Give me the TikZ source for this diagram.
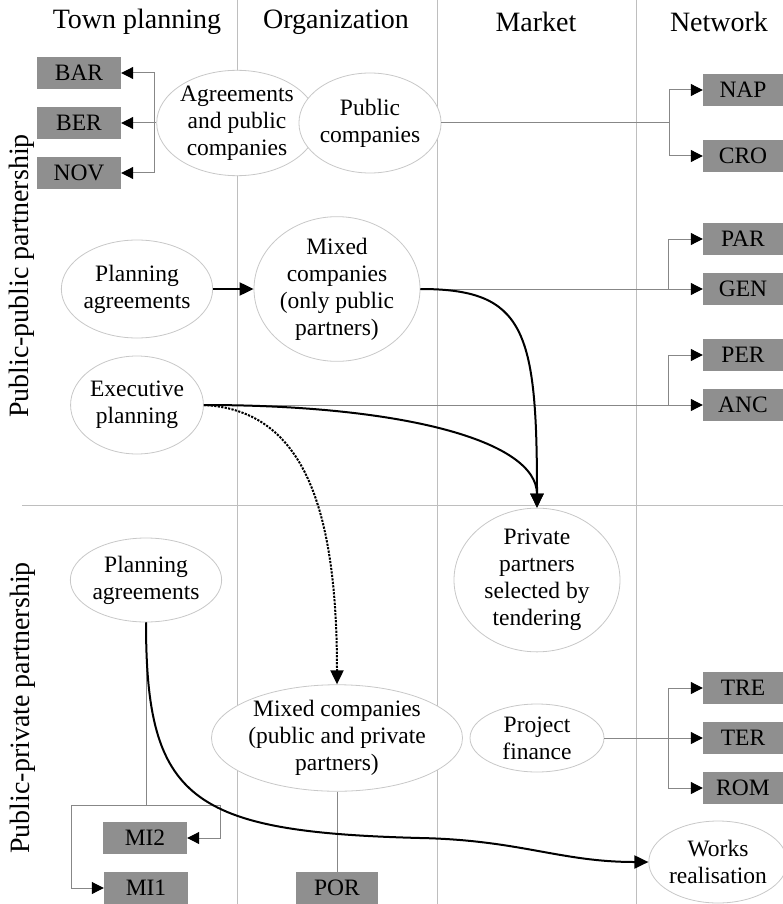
\documentclass[tikz,border=0pt]{standalone}
\usepackage{fontspec}
\setmainfont{Liberation Serif}
\usetikzlibrary{shapes.geometric,arrows.meta}
\definecolor{boxgray}{RGB}{143,143,143}
\definecolor{ellgray}{RGB}{200,200,200}
\definecolor{gridgray}{RGB}{190,190,190}
\definecolor{conngray}{RGB}{135,135,135}
\begin{document}
\begin{tikzpicture}[x=1pt,y=-1pt,
  every node/.style={font=\fontsize{23.5}{27}\selectfont, text=black},
  ell/.style={ellipse, draw=ellgray, fill=white, line width=0.8pt, inner sep=0pt, align=center},
  gbox/.style={rectangle, fill=boxgray, minimum width=84pt, minimum height=32pt, inner sep=0pt},
  rbox/.style={gbox, minimum width=80pt},
  hdr/.style={font=\fontsize{28}{32}\selectfont},
  gridline/.style={draw=gridgray, line width=1pt},
  plain/.style={draw=conngray, line width=1pt},
  conn/.style={draw=conngray, line width=1pt, -{Triangle[length=12pt,width=12pt,color=black,fill=black]}},
  heavy/.style={draw=black, line width=2pt, -{Triangle[length=14pt,width=13pt,color=black,fill=black]}},
  heavydot/.style={heavy, dash pattern=on 2.2pt off 1.3pt}
]
\useasboundingbox (0,0) rectangle (783,904);
% grid
\draw[gridline] (237,0) -- (237,904);
\draw[gridline] (437,0) -- (437,904);
\draw[gridline] (636,0) -- (636,904);
\draw[gridline] (22,505) -- (783,505);
% headers
\node[hdr] (h1) at (137,22) {Town planning};
\node[hdr] (h2) at (336,22) {Organization};
\node[hdr] (h3) at (536,22) {Market};
\node[hdr] (h4) at (719,22) {Network};
\node[hdr, rotate=90] (v1) at (22,276) {Public-public partnership};
\node[hdr, rotate=90] (v2) at (23,708) {Public-private partnership};
% ellipses
\node[ell, minimum width=132pt, minimum height=100pt] (apc) at (237,123) {Agreements\\and public\\companies};
\node[ell, minimum width=134pt, minimum height=100pt] (pc) at (370,123) {Public\\companies};
\node[ell, minimum width=132pt, minimum height=98pt] (pa1) at (137,289) {Planning\\agreements};
\node[ell, minimum width=166pt, minimum height=132pt] (m1) at (337,289) {Mixed\\companies\\(only public\\partners)};
\node[ell, minimum width=132pt, minimum height=98pt] (ex) at (137,405) {Executive\\planning};
\node[ell, minimum width=166pt, minimum height=116pt] (pp) at (537,580) {Private\\partners\\selected by\\tendering};
\node[ell, minimum width=150pt, minimum height=84pt] (pa2) at (146,580) {Planning\\agreements};
\node[ell, minimum width=200pt, minimum height=100pt] (m2) at (337,738) {Mixed companies\\(public and private\\partners)};
\node[ell, minimum width=134pt, minimum height=68pt] (pf) at (537,738) {Project\\finance};
\node[ell, minimum width=132pt, minimum height=82pt] (wr) at (718,862) {Works\\realisation};
% boxes
\node[gbox] (bar) at (79,73) {BAR};
\node[gbox] (ber) at (79,123) {BER};
\node[gbox] (nov) at (79,173) {NOV};
\node[rbox] (nap) at (743,90) {NAP};
\node[rbox] (cro) at (743,156) {CRO};
\node[rbox] (par) at (743,239) {PAR};
\node[rbox] (gen) at (743,289) {GEN};
\node[rbox] (per) at (743,355) {PER};
\node[rbox] (anc) at (743,405) {ANC};
\node[rbox] (tre) at (743,688) {TRE};
\node[rbox] (ter) at (743,738) {TER};
\node[rbox] (rom) at (743,788) {ROM};
\node[gbox] (mi2) at (145,838) {MI2};
\node[gbox] (mi1) at (146,888) {MI1};
\node[gbox, minimum width=82pt] (por) at (337,888) {POR};
% junctions
\coordinate (bl) at (154,123);
\coordinate (br1) at (669,123);
\coordinate (br2) at (668,289);
\coordinate (br3) at (668,405);
\coordinate (br4) at (668,738);
\coordinate (bj) at (146,805);
\coordinate (cR) at (220,805);
\coordinate (cL) at (71,805);
% thin connectors
\draw[plain] (apc.west) -- (bl);
\draw[conn] (bl) |- (bar.east);
\draw[conn] (bl) -- (ber.east);
\draw[conn] (bl) |- (nov.east);
\draw[plain] (pc.east) -- (br1);
\draw[conn] (br1) |- (nap.west);
\draw[conn] (br1) |- (cro.west);
\draw[plain] (m1.east) -- (br2);
\draw[conn] (br2) |- (par.west);
\draw[conn] (br2) -- (gen.west);
\draw[plain] (ex.east) -- (br3);
\draw[conn] (br3) |- (per.west);
\draw[conn] (br3) -- (anc.west);
\draw[plain] (pf.east) -- (br4);
\draw[conn] (br4) |- (tre.west);
\draw[conn] (br4) -- (ter.west);
\draw[conn] (br4) |- (rom.west);
\draw[plain] (pa2.south) -- (bj);
\draw[conn] (bj) -- (cR) |- (mi2.east);
\draw[conn] (bj) -- (cL) |- (mi1.west);
\draw[plain] (m2.south) -- (por.north);
% heavy connectors
\draw[heavy] (pa1.east) -- (m1.west);
\draw[heavy] (m1.east) .. controls (525,289) and (537,330) .. (pp.north);
\draw[heavy] (ex.east) .. controls (400,405) and (537,440) .. (pp.north);
\draw[heavydot] (ex.east) .. controls (300,410) and (337,500) .. (m2.north);
\draw[heavy] (pa2.south) .. controls (146,800) and (190,832) .. (420,838) .. controls (520,840) and (560,862) .. (wr.west);
\end{tikzpicture}
\end{document}
